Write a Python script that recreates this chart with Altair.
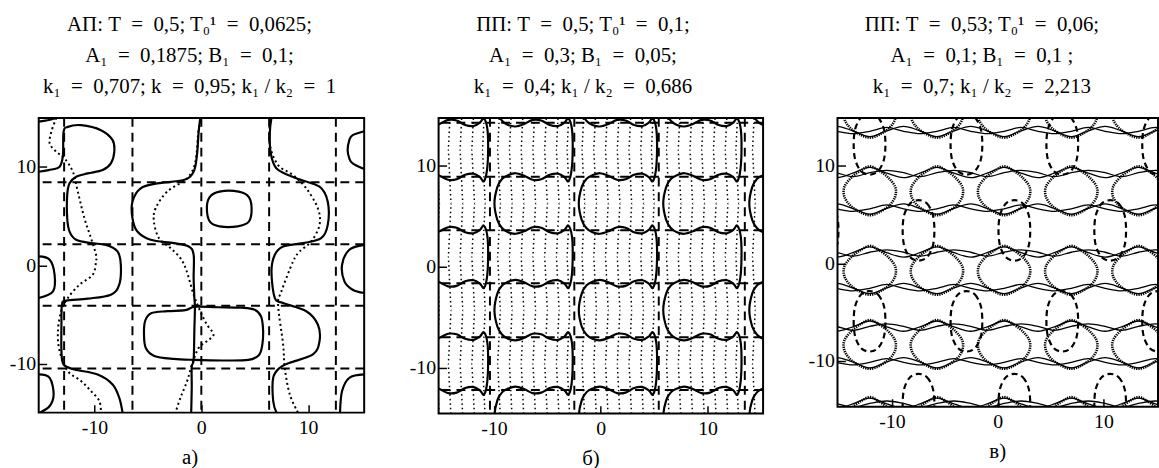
import altair as alt
import pandas as pd

FONT = "Liberation Serif"
EQ = "\u2002=\u2002"

# ---------------- panel а) ----------------
A_TITLE = [f"АП: T{EQ}0,5;  T₀¹{EQ}0,0625;", f"A₁{EQ}0,1875;  B₁{EQ}0,1;", f"k₁{EQ}0,707;   k{EQ}0,95;   k₁ / k₂{EQ}1"]
A_X_DOMAIN = [-15.23, 15.25]
A_Y_DOMAIN = [-14.96, 14.99]
A_VLINES = [-12.85, -6.45, 0.0, 6.35, 12.6]
A_HLINES = [8.44, 2.16, -4.09, -10.47]

A_S_LEFT = [(-15.23, 9.52), (-14.3, 9.69), (-13.27, 10.03), (-12.96, 11.21), (-12.9, 13.57), (-12.5, 14.08),
            (-11.26, 14.25), (-9.4, 13.74), (-8.31, 12.73), (-8.15, 11.55), (-8.47, 10.37), (-9.24, 9.69),
            (-10.64, 9.35), (-11.72, 9.01), (-12.34, 8.34), (-12.56, 7.16), (-12.56, 4.79), (-12.34, 3.44),
            (-11.72, 2.6), (-10.33, 2.26), (-8.93, 2.09), (-7.85, 1.42), (-7.54, 0.07), (-7.69, -1.96),
            (-8.47, -2.97), (-10.64, -3.38), (-12.65, -3.58), (-13.05, -3.99), (-13.1, -6.01), (-13.1, -8.71),
            (-12.9, -10.07), (-11.88, -10.57), (-9.71, -11.08), (-8.31, -12.09), (-7.69, -13.44), (-7.38, -14.96)]
A_S_CENTER = [(-0.10, 14.99), (-0.25, 13.57), (-0.41, 11.21), (-0.72, 9.52), (-1.65, 8.68), (-4.13, 8.34),
              (-5.68, 7.83), (-6.45, 6.48), (-6.45, 4.79), (-5.99, 3.44), (-4.75, 2.6), (-2.58, 2.26),
              (-1.18, 1.92), (-0.72, 1.08), (-0.72, -1.29), (-0.65, -3.31), (-0.6, -4.3), (-0.65, -6.5),
              (-0.72, -9.6), (-0.9, -10.3), (-0.9, -12.5), (-0.95, -14.96)]
A_S_RIGHT = [(6.57, 14.99), (6.42, 13.57), (6.48, 11.55), (7.04, 9.86), (8.90, 8.85), (11.07, 8.0), (11.84, 6.48),
             (11.84, 4.12), (11.22, 2.77), (9.52, 2.26), (7.66, 1.92), (6.88, 1.08), (6.57, -0.61), (6.88, -3.31),
             (7.66, -3.82), (9.83, -4.66), (10.91, -6.01), (11.07, -7.70), (10.45, -9.05), (8.28, -9.90),
             (7.35, -10.40), (6.73, -11.42), (6.73, -13.78), (7.04, -14.96)]
A_EDGE_R1 = [(15.25, 13.64), (14.17, 13.24), (13.86, 12.73), (13.70, 11.72), (13.86, 10.87), (14.17, 10.37), (15.25, 9.79)]
A_EDGE_R2 = [(15.25, 2.09), (13.86, 1.59), (13.18, 0.07), (13.4, -1.62), (14.17, -2.47), (15.25, -2.80)]
A_EDGE_R3 = [(15.25, -11.08), (13.86, -11.42), (13.18, -12.77), (12.99, -14.96)]
A_EDGE_L1 = [(-15.23, 0.91), (-14.2, 0.57), (-13.74, -0.95), (-13.89, -2.64), (-15.23, -3.31)]
A_EDGE_L2 = [(-15.23, -11.08), (-14.2, -11.42), (-13.83, -13.1), (-14.2, -14.29), (-15.13, -14.96)]
A_EDGE_L0 = [(-15.23, 14.62), (-14.4, 14.75), (-13.6, 14.99)]
A_RECT = [(-0.6, -4.2), (1.5, -4.25), (3.8, -4.3), (5.0, -4.5), (5.6, -5.2), (5.78, -6.5), (5.72, -8.0),
          (5.4, -9.1), (4.4, -9.6), (2.0, -9.66), (-0.7, -9.6), (-2.6, -9.5), (-4.4, -9.2), (-5.2, -8.4),
          (-5.37, -7.0), (-5.25, -5.6), (-4.7, -4.85), (-3.2, -4.65), (-1.5, -4.55)]
A_LOOP = [(0.52, 5.7), (0.75, 6.9), (1.7, 7.5), (3.5, 7.5), (4.45, 6.95), (4.71, 5.7), (4.45, 4.45),
          (3.4, 3.97), (1.7, 3.97), (0.8, 4.45)]
A_D_LEFT = [(-13.58, 14.99), (-14.05, 13.57), (-14.2, 12.39), (-13.58, 11.55), (-12.81, 10.87), (-12.03, 9.52),
            (-11.57, 7.5), (-10.95, 4.79), (-10.33, 2.77), (-9.86, 1.08), (-9.86, 0.4), (-10.17, -0.95),
            (-11.41, -1.96), (-12.5, -3.31), (-13.12, -4.66), (-13.43, -6.69), (-13.27, -8.71), (-12.5, -10.74),
            (-11.26, -11.75), (-10.33, -12.77), (-9.55, -13.78), (-9.4, -14.96)]
A_D_CENTER = [(0.06, 14.6), (-0.25, 13.91), (-0.56, 10.53), (-1.34, 8.85), (-3.2, 7.5), (-4.28, 5.81),
              (-4.44, 4.46), (-3.97, 2.77), (-2.89, 1.76), (-1.96, 0.74), (-1.4, -0.5), (-0.72, -2.97),
              (-0.10, -4.66), (0.52, -6.01), (1.14, -7.03), (0.52, -7.7), (-0.25, -8.38), (-0.87, -10.06),
              (-1.33, -11.75), (-1.95, -13.44), (-2.42, -14.96)]
A_D_RIGHT = [(6.42, 14.59), (6.42, 12.22), (7.19, 10.2), (8.59, 9.18), (9.83, 7.83), (10.91, 5.81), (11.07, 4.12),
             (10.29, 2.43), (9.21, 1.42), (8.59, 0.4), (7.5, -2.64), (7.19, -3.99), (7.66, -8.04), (7.81, -10.4),
             (8.28, -13.1), (9.05, -14.96)]

# ---------------- panel б) ----------------
B_TITLE = [f"ПП: T{EQ}0,5;  T₀¹{EQ}0,1;", f"A₁{EQ}0,3;  B₁{EQ}0,05;", f"k₁{EQ}0,4;  k₁ / k₂{EQ}0,686"]
B_X_DOMAIN = [-15.19, 15.2]
B_Y_DOMAIN = [-14.55, 14.75]
B_VLINES = [-10.38, -2.48, 5.43, 13.49]
B_HLINES = [14.26, 8.92, 3.61, -1.64, -6.98, -12.22]
B_COL_X = [-18.3, -10.38, -2.48, 5.43, 13.49]
B_ROW_Y = [19.55, 8.92, -1.64, -12.22]
B_SNAKE = [(7.35, -0.45), (7.0, -0.05), (6.4, 0.3), (5.6, 0.2), (4.8, -0.25), (4.0, -0.3), (3.2, 0.1),
           (2.4, 0.35), (1.7, 0.15), (1.15, -0.2), (0.7, -1.0), (0.42, -2.65), (0.7, -4.3), (1.15, -5.1),
           (1.7, -5.5), (2.4, -5.65), (3.2, -5.4), (4.0, -5.0), (4.8, -5.05), (5.6, -5.5), (6.4, -5.6),
           (7.0, -5.25), (7.35, -4.85), (7.68, -5.9), (7.75, -7.95), (7.64, -10.0)]
B_DOT_DX = [0.85, 1.95, 3.05, 4.15, 5.25, 6.35, 7.35]
B_DOT_Y = [20.9, 19.55, 16.9, 14.26, 11.6, 8.92, 6.27, 3.61, 0.98, -1.64, -4.3, -6.98, -9.6, -12.22, -14.9, -17.5]
B_DOT_WOB = [0, 0, 0.15, 0, -0.15, 0, 0.15, 0, -0.15, 0, 0.15, 0, -0.15, 0, 0.15, 0]

# ---------------- panel в) ----------------
C_TITLE = [f"ПП: T{EQ}0,53;  T₀¹{EQ}0,06;", f"A₁{EQ}0,1;  B₁{EQ}0,1 ;", f"k₁{EQ}0,7;   k₁ / k₂{EQ}2,213"]
C_X_DOMAIN = [-15.15, 15.15]
C_Y_DOMAIN = [-14.68, 14.92]
C_LOOP_X = [-12.1, -5.75, 0.6, 6.95, 13.3]
C_LOOP_Y = [15.4, 7.45, -0.7, -8.3, -16.2]
C_LOOP = [(0, 2.5), (0.75, 2.15), (1.7, 1.4), (2.4, 0.4), (2.4, -0.6), (1.85, -1.5), (0.9, -2.2), (0, -2.5),
          (-0.9, -2.2), (-1.85, -1.5), (-2.4, -0.6), (-2.4, 0.4), (-1.7, 1.4), (-0.75, 2.15)]
C_WAVE_X = [-18.45, -12.1, -5.75, 0.6, 6.95, 13.3, 19.65]
C_TOP_A = [(-3.15, 1.35), (-1.6, 1.8), (0, 2.4), (1.6, 1.8)]
C_TOP_B = [(-3.15, 1.85), (-1.6, 1.45), (0, 1.85), (1.6, 2.1)]
C_BOT_A = [(-3.15, -1.35), (-1.6, -1.8), (0, -2.4), (1.6, -1.8)]
C_BOT_B = [(-3.15, -1.85), (-1.6, -2.1), (0, -1.85), (1.6, -1.45)]
C_ELL_Y = [12.21, 3.39, -5.93, -14.41]
C_ELL_X = [[-12.12, -2.96, 6.1, 15.16], [-16.56, -7.49, 1.57, 10.63],
           [-12.12, -2.96, 6.1, 15.16], [-7.49, 1.57, 10.63]]
C_ELL = [(0, 3.1), (0.8, 2.75), (1.35, 1.6), (1.5, 0), (1.35, -1.6), (0.8, -2.75), (0, -3.1), (-0.8, -2.75),
         (-1.35, -1.6), (-1.5, 0), (-1.35, 1.6), (-0.8, 2.75)]
C_TICKS = [-10, 0, 10]


def frame(curves, prefix):
    recs = []
    for k, pts in enumerate(curves):
        for i, (x, y) in enumerate(pts):
            recs.append({"cid": f"{prefix}{k}", "i": i, "x": x, "y": y})
    return pd.DataFrame(recs)


def shapes(centres, motif, prefix):
    return frame([[(cx + dx, cy + dy) for dx, dy in motif] for cx, cy in centres], prefix)


def axes(sub, sub_x):
    ax = alt.Axis(values=C_TICKS, title=sub, titleX=sub_x, titleFont=FONT, titleFontSize=21,
                  titleFontWeight="normal", titleColor="black", titlePadding=9,
                  labelFont=FONT, labelFontSize=20, labelColor="black", labelPadding=5,
                  labelExpr="'' + datum.value", tickSize=8, tickWidth=1.5, tickColor="black",
                  offset=-8, domain=False, grid=False)
    ay = alt.Axis(values=C_TICKS, title=None, labelFont=FONT, labelFontSize=20, labelColor="black",
                  labelPadding=3, labelExpr="'' + datum.value", tickSize=8, tickWidth=1.5,
                  tickColor="black", offset=-8, domain=False, grid=False)
    return ax, ay


def curve_layer(df, enc, interp, width, dash=None):
    kw = dict(interpolate=interp, strokeWidth=width, color="black", clip=True)
    if dash:
        kw["strokeDash"] = dash
    return alt.Chart(df).mark_line(**kw).encode(
        x=alt.X("x:Q", scale=enc[0], axis=enc[2]),
        y=alt.Y("y:Q", scale=enc[1], axis=enc[3]),
        detail="cid:N", order="i:Q")


def rule_layers(vl, hl, enc, dash=(9, 6), width=2):
    v = alt.Chart(pd.DataFrame({"x": vl})).mark_rule(
        strokeDash=list(dash), strokeWidth=width, color="black", clip=True).encode(
        x=alt.X("x:Q", scale=enc[0], axis=enc[2]))
    h = alt.Chart(pd.DataFrame({"y": hl})).mark_rule(
        strokeDash=list(dash), strokeWidth=width, color="black", clip=True).encode(
        y=alt.Y("y:Q", scale=enc[1], axis=enc[3]))
    return [v, h]


def enc_for(xdom, ydom, sub, sub_x):
    xs = alt.Scale(domain=xdom, nice=False, zero=False)
    ys = alt.Scale(domain=ydom, nice=False, zero=False)
    ax, ay = axes(sub, sub_x)
    return (xs, ys, ax, ay)


def title(lines, dx):
    return alt.TitleParams(text=lines, font=FONT, fontSize=21, fontWeight="normal", color="black",
                           lineHeight=31.5, anchor="middle", frame="group", dx=dx, offset=21)


# ----- panel a -----
ea = enc_for(A_X_DOMAIN, A_Y_DOMAIN, "а)", 152)
a_open = frame([A_S_LEFT, A_S_CENTER, A_S_RIGHT, A_EDGE_R1, A_EDGE_R2, A_EDGE_R3,
                A_EDGE_L1, A_EDGE_L2, A_EDGE_L0], "s")
a_closed = frame([A_RECT, A_LOOP], "c")
a_dot = frame([A_D_LEFT, A_D_CENTER, A_D_RIGHT], "d")
panel_a = alt.layer(
    *rule_layers(A_VLINES, A_HLINES, ea),
    curve_layer(a_dot, ea, "cardinal", 2, [2, 3]),
    curve_layer(a_open, ea, "cardinal", 2.2),
    curve_layer(a_closed, ea, "cardinal-closed", 2.2),
).properties(width=328, height=297, title=title(A_TITLE, -12))

# ----- panel b -----
eb = enc_for(B_X_DOMAIN, B_Y_DOMAIN, "б)", 153)
snake_recs = []
for c, x0 in enumerate(B_COL_X):
    i = 0
    for y0 in B_ROW_Y:
        for dx, dy in B_SNAKE:
            snake_recs.append({"cid": f"b{c}", "i": i, "x": x0 + dx, "y": y0 + dy})
            i += 1
b_snake = pd.DataFrame(snake_recs)
dot_recs = []
for c, x0 in enumerate(B_COL_X):
    for j, d in enumerate(B_DOT_DX):
        for i, (yy, w) in enumerate(zip(B_DOT_Y, B_DOT_WOB)):
            dot_recs.append({"cid": f"d{c}_{j}", "i": i, "x": x0 + d + w, "y": yy})
b_dot = pd.DataFrame(dot_recs)
panel_b = alt.layer(
    curve_layer(b_dot, eb, "monotone", 1.5, [1.5, 3]),
    *rule_layers(B_VLINES, B_HLINES, eb),
    curve_layer(b_snake, eb, "cardinal", 2.2),
).properties(width=327, height=298, title=title(B_TITLE, -18))

# ----- panel c -----
ec = enc_for(C_X_DOMAIN, C_Y_DOMAIN, "в)", 161)
wave_recs = []
for r, yr in enumerate(C_LOOP_Y):
    for m, motif in enumerate([C_TOP_A, C_TOP_B, C_BOT_A, C_BOT_B]):
        i = 0
        for xc in C_WAVE_X:
            for dx, dy in motif:
                wave_recs.append({"cid": f"w{r}_{m}", "i": i, "x": xc + dx, "y": yr + dy})
                i += 1
c_waves = pd.DataFrame(wave_recs)
c_loops = shapes([(x, y) for y in C_LOOP_Y for x in C_LOOP_X], C_LOOP, "l")
c_ells = shapes([(x, y) for y, xs_ in zip(C_ELL_Y, C_ELL_X) for x in xs_], C_ELL, "e")
panel_c = alt.layer(
    curve_layer(c_waves, ec, "monotone", 1.3),
    curve_layer(c_loops, ec, "cardinal-closed", 2.6, [1.3, 1.0]),
    curve_layer(c_ells, ec, "cardinal-closed", 2.2, [6, 4]),
).properties(width=323, height=291, title=title(C_TITLE, -16))

chart = alt.hconcat(panel_a, panel_b, panel_c, spacing=75, bounds="flush").properties(
    padding={"left": 8, "top": 11, "right": 0, "bottom": 0}
).configure_view(stroke="black", strokeWidth=2)

chart.save("out.html", embed_options={"renderer": "svg", "actions": False})
